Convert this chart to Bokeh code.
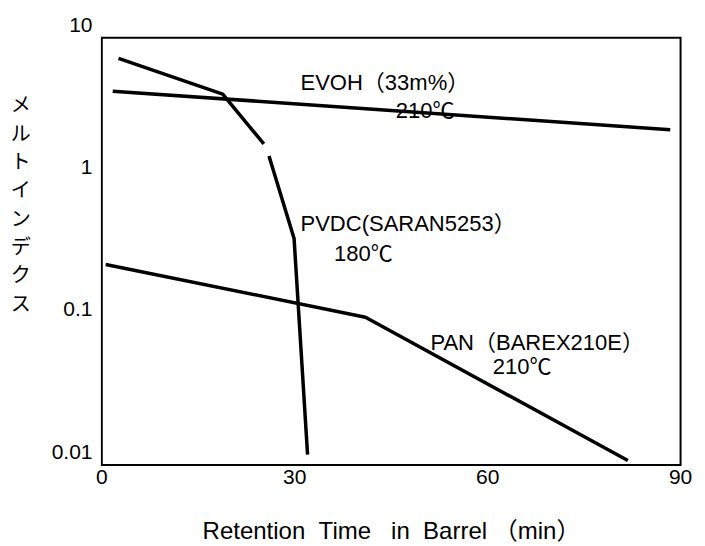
from bokeh.plotting import figure
from bokeh.models import Range1d, FixedTicker, Label
from bokeh.embed import file_html
from bokeh.resources import INLINE

# ---- data ----
evoh_x = [1.7, 88.4]
evoh_y = [3.40, 1.82]

pvdc_upper_x = [2.6, 18.8, 25.2]
pvdc_upper_y = [5.78, 3.24, 1.45]
pvdc_lower_x = [26.0, 29.9, 32.0]
pvdc_lower_y = [1.19, 0.314, 0.0095]

pan_x = [0.6, 41.0, 81.8]
pan_y = [0.206, 0.0879, 0.00865]

x_ticks = [0, 30, 60, 90]
y_ticks = [0.01, 0.1, 1, 10]
y_tick_labels = ["0.01", "0.1", "1", "10"]

x_title = "Retention\u00a0\u00a0Time\u00a0\u00a0\u00a0in\u00a0\u00a0Barrel\u00a0（min）"
y_title_chars = ["メ", "ル", "ト", "イ", "ン", "デ", "ク", "ス"]

FONT = "'Liberation Sans', 'Noto Sans CJK JP', sans-serif"
JFONT = "'Noto Sans CJK JP', sans-serif"

# frame box (the plotted region of the original figure)
box_left, box_right = 0, 90
box_bottom, box_top = 10 ** -2.095, 10 ** 0.907

p = figure(width=700, height=546, output_backend="svg", toolbar_location=None,
           y_axis_type="log",
           x_range=Range1d(-0.2, 90.3),
           y_range=Range1d(10 ** -2.105, 10),
           min_border_left=100, min_border_right=18,
           min_border_top=24, min_border_bottom=78)

p.grid.visible = False
p.outline_line_color = None
p.background_fill_color = "white"
p.border_fill_color = "white"

# the chart's rectangular frame
p.quad(left=[box_left], right=[box_right], bottom=[box_bottom], top=[box_top],
       fill_color=None, line_color="black", line_width=2, line_join="miter")

for ax in (p.xaxis, p.yaxis):
    ax.axis_line_color = None
    ax.major_tick_line_color = None
    ax.minor_tick_line_color = None
    ax.major_tick_out = 0
    ax.major_tick_in = 0
    ax.minor_tick_out = 0
    ax.major_label_text_font = FONT
    ax.major_label_text_font_size = "21px"
    ax.major_label_text_color = "black"

p.xaxis.ticker = FixedTicker(ticks=x_ticks)
p.xaxis.major_label_standoff = 3
p.yaxis.ticker = FixedTicker(ticks=y_ticks)
p.yaxis.major_label_overrides = {t: s for t, s in zip(y_ticks, y_tick_labels)}
p.yaxis.major_label_standoff = 8

p.xaxis.axis_label = x_title
p.xaxis.axis_label_text_font = FONT
p.xaxis.axis_label_text_font_size = "24px"
p.xaxis.axis_label_text_font_style = "normal"
p.xaxis.axis_label_text_color = "black"
p.xaxis.axis_label_standoff = 30

# vertical Japanese title: upright characters stacked one per line
p.yaxis.axis_label = "\n".join(y_title_chars + ["\u3000"] * 3)
p.yaxis.axis_label_orientation = "horizontal"
p.yaxis.axis_label_text_font = JFONT
p.yaxis.axis_label_text_font_size = "20px"
p.yaxis.axis_label_text_font_style = "normal"
p.yaxis.axis_label_text_line_height = 0.977
p.yaxis.axis_label_text_color = "black"
p.yaxis.axis_label_standoff = 18

lw = 3.5
p.line(evoh_x, evoh_y, line_color="black", line_width=lw)
p.line(pvdc_upper_x, pvdc_upper_y, line_color="black", line_width=lw)
p.line(pvdc_lower_x, pvdc_lower_y, line_color="black", line_width=lw)
p.line(pan_x, pan_y, line_color="black", line_width=lw)

def note(x, y, t):
    p.add_layout(Label(x=x, y=y, text=t, text_align="left", text_baseline="middle",
                       text_font=FONT, text_font_size="22px", text_color="black"))

note(30.9, 3.93, "EVOH（33m%）")
note(45.7, 2.47, "210℃")
note(30.9, 0.399, "PVDC(SARAN5253）")
note(36.1, 0.247, "180℃")
note(51.1, 0.0588, "PAN（BAREX210E）")
note(60.8, 0.0393, "210℃")

open("out.html", "w").write(file_html(p, INLINE))
